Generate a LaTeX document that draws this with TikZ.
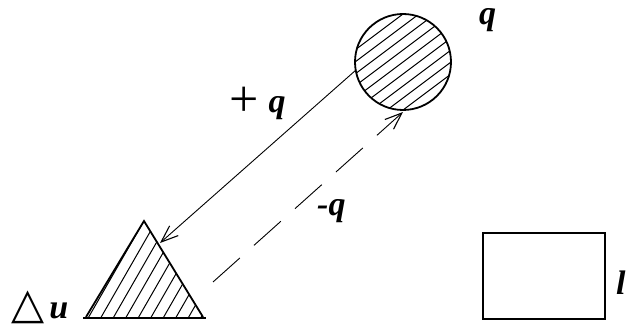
\documentclass[tikz,border=0pt]{standalone}
\usepackage{fontspec}
\setmainfont{Liberation Serif}
\newfontfamily\symfont{DejaVu Sans}
\usetikzlibrary{arrows.meta,calc}
\begin{document}
\begin{tikzpicture}[x=1pt,y=-1pt,
  lbl/.style={font=\fontsize{34}{34}\selectfont\bfseries\itshape, inner sep=0pt, anchor=base west},
  outl/.style={line width=1.8pt},
  hatch/.style={line width=1pt},
  arr/.style={line width=0.9pt,-{Straight Barb[length=17pt,width=13pt,line width=1.1pt]}}]
\useasboundingbox (0,0) rectangle (630,329);
% circle
\node[circle, minimum size=98pt, inner sep=0pt] (C) at (403,62) {};
\begin{scope}
  \clip (403,62) circle (48);
  \foreach \k in {-8,...,8}
    \draw[hatch] ($(403,62)+(\k*16,0)+(-120,90)$) -- ++(240,-180);
\end{scope}
\draw[outl] (403,62) circle (48);
% triangle
\coordinate (A) at (144,221);
\coordinate (B) at (86,317);
\coordinate (D) at (203,317);
\begin{scope}
  \clip (A) -- (B) -- (D) -- cycle;
  \foreach \k in {0,...,12}
    \draw[hatch] (62+\k*12.5,320) -- ++(62,-108);
\end{scope}
\draw[outl] (D) -- (A) -- (B);
\draw[line width=2.6pt] (83,318) -- (206,318);
\coordinate (T) at (160,243);
\coordinate (Cl) at (356,70);
\coordinate (Cb) at (403,112);
\coordinate (Ts) at (213,282);
\draw[arr] (Cl) -- (T);
\draw[arr, dash pattern=on 36pt off 19pt] (Ts) -- (Cb);
% rectangle
\node[draw, line width=2pt, minimum width=122pt, minimum height=86pt, inner sep=0pt] (R) at (544,276) {};
% labels
\node[lbl] (q) at (479,25) {q};
\node[lbl] (pq) at (229,113) {\raisebox{-4pt}{\mdseries\upshape\fontsize{52}{52}\selectfont +}\hspace{10pt}q};
\node[lbl] (mq) at (317,215) {-q};
\node[lbl] (du) at (11,318) {{\symfont\mdseries\upshape\fontsize{43}{43}\selectfont △}\hspace{5pt}u};
\node[lbl] (l) at (616,294) {l};
\end{tikzpicture}
\end{document}
